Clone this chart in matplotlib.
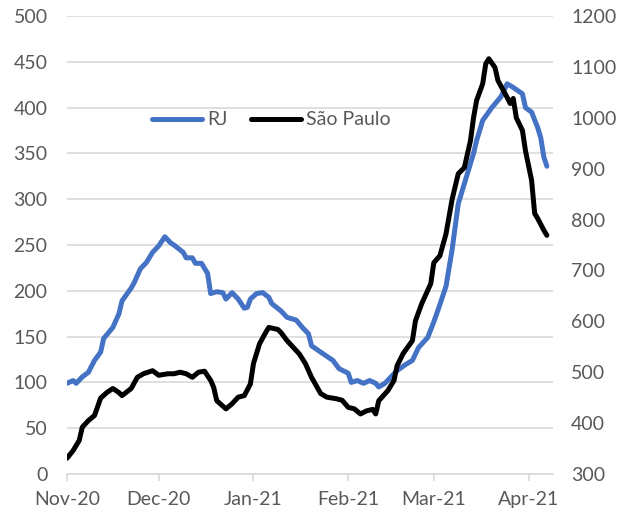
import matplotlib
matplotlib.use('Agg')
import matplotlib.pyplot as plt
import matplotlib.dates as mdates
import pandas as pd

# ---------------- data ----------------
rj_dates = ['2020-11-01', '2020-11-03', '2020-11-04', '2020-11-06', '2020-11-08', '2020-11-10',
            '2020-11-12', '2020-11-13', '2020-11-16', '2020-11-18', '2020-11-19', '2020-11-22',
            '2020-11-23', '2020-11-25', '2020-11-27', '2020-11-29', '2020-12-01', '2020-12-03',
            '2020-12-05', '2020-12-06', '2020-12-09', '2020-12-10', '2020-12-12', '2020-12-13',
            '2020-12-15', '2020-12-17', '2020-12-18', '2020-12-20', '2020-12-22', '2020-12-23',
            '2020-12-25', '2020-12-27', '2020-12-29', '2020-12-30', '2020-12-31', '2021-01-02',
            '2021-01-04', '2021-01-06', '2021-01-07', '2021-01-10', '2021-01-12', '2021-01-15',
            '2021-01-17', '2021-01-19', '2021-01-20', '2021-01-23', '2021-01-27', '2021-01-29',
            '2021-02-01', '2021-02-02', '2021-02-04', '2021-02-06', '2021-02-08', '2021-02-10',
            '2021-02-11', '2021-02-13', '2021-02-15', '2021-02-17', '2021-02-20', '2021-02-22',
            '2021-02-24', '2021-02-27', '2021-03-01', '2021-03-03', '2021-03-05', '2021-03-07',
            '2021-03-09', '2021-03-12', '2021-03-14', '2021-03-15', '2021-03-17', '2021-03-20',
            '2021-03-23', '2021-03-25', '2021-03-27', '2021-03-30', '2021-03-31', '2021-04-02',
            '2021-04-04', '2021-04-05', '2021-04-06', '2021-04-07']
rj_values = [99, 102, 99, 106, 111, 124,
             133, 148, 160, 175, 189, 203,
             209, 224, 231, 242, 249, 259,
             252, 250, 242, 236, 236, 230,
             230, 219, 197, 199, 198, 191,
             198, 191, 181, 182, 191, 197,
             198, 193, 186, 178, 171, 168,
             160, 153, 140, 133, 124, 115,
             110, 100, 102, 99, 102, 99,
             95, 99, 106, 113, 120, 124,
             138, 149, 166, 185, 205, 245,
             295, 328, 350, 364, 386, 400,
             412, 426, 422, 415, 400, 395,
             378, 367, 346, 336]

sp_dates = ['2020-11-01', '2020-11-03', '2020-11-05', '2020-11-06', '2020-11-08', '2020-11-10',
            '2020-11-12', '2020-11-14', '2020-11-16', '2020-11-18', '2020-11-19', '2020-11-22',
            '2020-11-24', '2020-11-26', '2020-11-29', '2020-12-01', '2020-12-04', '2020-12-06',
            '2020-12-08', '2020-12-10', '2020-12-12', '2020-12-14', '2020-12-16', '2020-12-18',
            '2020-12-19', '2020-12-20', '2020-12-23', '2020-12-25', '2020-12-27', '2020-12-29',
            '2020-12-31', '2021-01-01', '2021-01-03', '2021-01-05', '2021-01-06', '2021-01-09',
            '2021-01-10', '2021-01-12', '2021-01-14', '2021-01-16', '2021-01-18', '2021-01-20',
            '2021-01-23', '2021-01-25', '2021-01-28', '2021-01-30', '2021-02-01', '2021-02-03',
            '2021-02-05', '2021-02-07', '2021-02-09', '2021-02-10', '2021-02-11', '2021-02-14',
            '2021-02-16', '2021-02-17', '2021-02-19', '2021-02-22', '2021-02-23', '2021-02-25',
            '2021-02-28', '2021-03-01', '2021-03-03', '2021-03-05', '2021-03-07', '2021-03-09',
            '2021-03-11', '2021-03-13', '2021-03-14', '2021-03-15', '2021-03-17', '2021-03-18',
            '2021-03-19', '2021-03-21', '2021-03-22', '2021-03-25', '2021-03-26', '2021-03-27',
            '2021-03-28', '2021-03-30', '2021-03-31', '2021-04-02', '2021-04-03', '2021-04-04',
            '2021-04-06', '2021-04-07']
sp_values = [331, 346, 366, 392, 405, 415,
             449, 460, 468, 460, 454, 468,
             490, 497, 503, 494, 497, 497,
             500, 497, 490, 500, 502, 484,
             470, 444, 428, 438, 451, 454,
             477, 517, 556, 578, 588, 584,
             578, 562, 549, 536, 517, 490,
             458, 451, 448, 445, 431, 428,
             418, 424, 427, 418, 444, 464,
             484, 513, 537, 562, 601, 634,
             674, 715, 729, 772, 840, 890,
             902, 955, 1000, 1034, 1067, 1106,
             1116, 1099, 1073, 1040, 1028, 1038,
             1000, 975, 935, 877, 812, 802,
             779, 769]

left_ticks = [0, 50, 100, 150, 200, 250, 300, 350, 400, 450, 500]
right_ticks = [300, 400, 500, 600, 700, 800, 900, 1000, 1100, 1200]
month_ticks = ['2020-11-01', '2020-12-01', '2021-01-01', '2021-02-01', '2021-03-01', '2021-04-01']
month_labels = ['Nov-20', 'Dec-20', 'Jan-21', 'Feb-21', 'Mar-21', 'Apr-21']
series_names = ['RJ', 'São Paulo']

# ---------------- style ----------------
plt.rcParams['font.family'] = ['Lato', 'DejaVu Sans']
TXT = '#595959'
GRID = '#D9D9D9'
BLUE = '#4472C4'
FS = 14

fig = plt.figure(figsize=(6.28, 5.14), dpi=100)
ax = fig.add_axes([67 / 628, 1 - 474 / 514, (553 - 67) / 628, (474 - 16) / 514])
ax2 = ax.twinx()

rj_x = pd.to_datetime(rj_dates)
sp_x = pd.to_datetime(sp_dates)

l1, = ax.plot(rj_x, rj_values, color=BLUE, lw=3.6, solid_joinstyle='round', solid_capstyle='round')
l2, = ax2.plot(sp_x, sp_values, color='black', lw=3.6, solid_joinstyle='round', solid_capstyle='round')

ax.set_ylim(0, 500)
ax2.set_ylim(300, 1200)
ax.set_yticks(left_ticks)
ax2.set_yticks(right_ticks)
ax.set_xlim(pd.Timestamp('2020-11-01'), pd.Timestamp('2021-04-09'))
ax.set_xticks(pd.to_datetime(month_ticks))
ax.set_xticklabels(month_labels)

ax.grid(axis='y', color=GRID, lw=1.2)
ax.set_axisbelow(True)
for a in (ax, ax2):
    for s in ('top', 'left', 'right'):
        a.spines[s].set_visible(False)
ax2.spines['bottom'].set_visible(False)
ax.spines['bottom'].set_color(GRID)
ax.spines['bottom'].set_linewidth(1.2)

ax.tick_params(axis='y', length=0, pad=14, labelsize=FS, labelcolor=TXT)
ax2.tick_params(axis='y', length=0, pad=13, labelsize=FS, labelcolor=TXT)
ax.tick_params(axis='x', length=5, width=1.2, color=GRID, pad=7, labelsize=FS, labelcolor=TXT)

leg = ax.legend([l1, l2], series_names, loc='center', bbox_to_anchor=(0.42, 0.773), ncol=2,
                frameon=False, fontsize=FS, handlelength=2.6, handletextpad=0.25,
                columnspacing=1.2, labelcolor=TXT)

fig.savefig('out.png', dpi=100)
